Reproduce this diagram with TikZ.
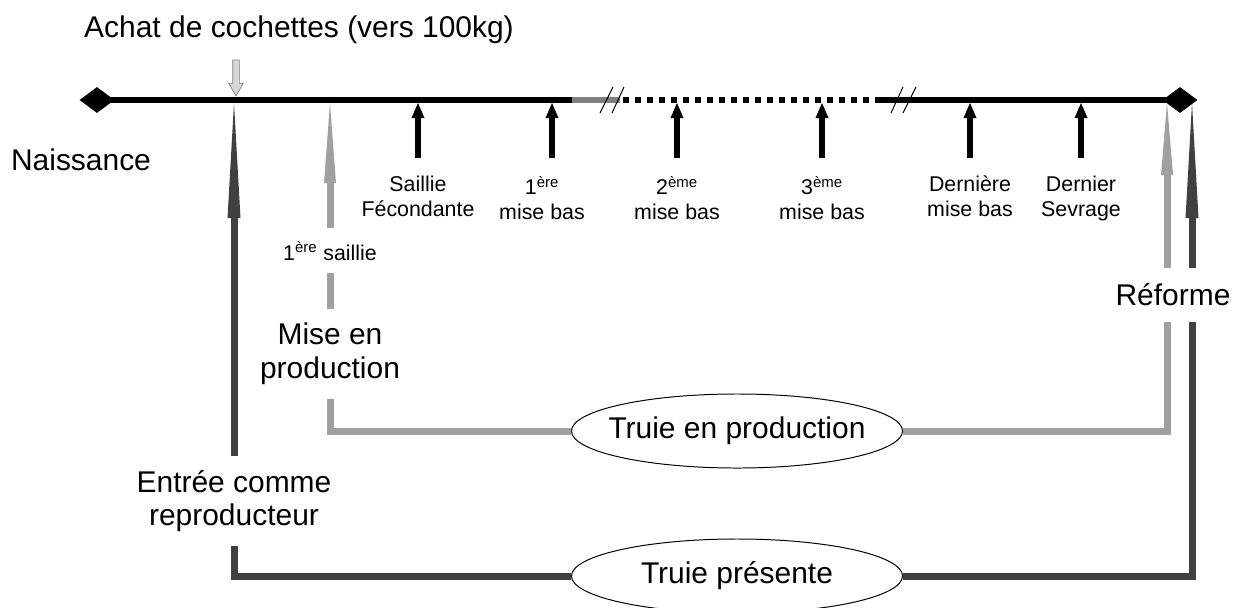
\documentclass[tikz,border=0pt]{standalone}
\usepackage{fontspec}
\setmainfont{Liberation Sans}
\usetikzlibrary{arrows.meta,shapes.geometric,shapes.arrows}

\definecolor{darkln}{RGB}{64,64,64}
\definecolor{lightln}{RGB}{160,160,160}
\definecolor{buyfill}{RGB}{215,215,215}

\tikzset{
  bigtxt/.style={font=\fontsize{21.3}{24}\selectfont, inner sep=0pt},
  smalltxt/.style={font=\fontsize{15.2}{17.7}\selectfont, inner sep=0pt},
  evtlabel/.style={smalltxt, align=center, anchor=north, outer ysep=0.45cm},
  timeln/.style={line width=0.1625cm},
  brk/.style={line width=0.7pt},
  evtarrow/.style={line width=0.15cm, -{Triangle[length=0.375cm, width=0.325cm, line width=0pt]}},
  darkpath/.style={darkln, line width=0.175cm},
  lightpath/.style={lightln, line width=0.175cm},
  darkarrow/.style={darkpath, -{Triangle[length=2.875cm, width=0.325cm, line width=0pt]}},
  lightarrow/.style={lightpath, -{Triangle[length=#1, width=0.3cm, line width=0pt]}},
  lightarrow/.default=2cm,
  phase/.style={ellipse, draw, line width=0.7pt, bigtxt, inner xsep=-0.35cm, inner ysep=0pt,
    minimum width=8.275cm, minimum height=1.85cm},
  endpt/.style={diamond, fill=black, inner sep=0pt, minimum width=0.875cm, minimum height=0.65cm},
  buyarrow/.style={single arrow, draw=gray, fill=buyfill, line width=0.5pt, rotate=-90,
    minimum height=0.9cm, inner xsep=0pt, inner ysep=0.075cm, single arrow head extend=0.1cm,
    single arrow tip angle=60}
}

\begin{document}
\begin{tikzpicture}[x=0.025cm, y=-0.025cm]
\useasboundingbox (0,0) rectangle (1242,607);

\node[endpt] (birth) at (97,100) {};
\node[endpt] (cull) at (1180,100) {};
\coordinate (tl) at (0,103);
\draw[timeln] (birth.center) -- (572,100);
\draw[timeln, gray] (572,100) -- (620,100);
\draw[timeln, dash pattern=on 0.15cm off 0.15cm] (623,100) -- (878,100);
\draw[timeln] (878,100) -- (cull.center);
\draw[brk] (600,113) -- (613,87);
\draw[brk] (612,113) -- (624,87);
\draw[brk] (891,113) -- (903,87);
\draw[brk] (903,113) -- (916,87);

\node[bigtxt, anchor=base] (buy) at (299,37) {Achat de cochettes (vers 100kg)};
\node[buyarrow] (buyarr) at (236,75) {};
\node[bigtxt, anchor=base] (naiss) at (81,170) {Naissance};

% events on the time line
\node[evtlabel] (sf) at (418,158) {Saillie\\Fécondante};
\node[evtlabel] (mb1) at (542,158) {1\textsuperscript{ère}\\mise bas};
\node[evtlabel] (mb2) at (677,158) {2\textsuperscript{ème}\\mise bas};
\node[evtlabel] (mb3) at (822,158) {3\textsuperscript{ème}\\mise bas};
\node[evtlabel] (mbl) at (970,158) {Dernière\\mise bas};
\node[evtlabel] (sev) at (1081,158) {Dernier\\Sevrage};
\coordinate (mb1-foot) at ([xshift=0.25cm]mb1.north);
\draw[evtarrow] (sf.north) -- (sf.north |- tl);
\draw[evtarrow] (mb1-foot) -- (mb1-foot |- tl);
\draw[evtarrow] (mb2.north) -- (mb2.north |- tl);
\draw[evtarrow] (mb3.north) -- (mb3.north |- tl);
\draw[evtarrow] (mbl.north) -- (mbl.north |- tl);
\draw[evtarrow] (sev.north) -- (sev.north |- tl);

% the two cycles
\node[phase] (prod) at (737,431) {Truie en production};
\node[phase] (pres) at (737,576) {Truie présente};

\node[bigtxt, align=center, outer ysep=0.35cm] (entry) at (234,501) {Entrée comme\\reproducteur};
\draw[darkpath] (pres.west) -| (entry);
\draw[darkarrow] (entry) -- (entry |- tl);

\node[bigtxt, align=center, outer ysep=0.35cm] (misep) at (330,354) {Mise en\\production};
\node[smalltxt, anchor=base, outer ysep=0.33cm] (sail1) at (330,260) {1\textsuperscript{ère} saillie};
\draw[lightpath] (prod.west) -| (misep);
\draw[lightpath] (misep) -- (sail1);
\draw[lightarrow] (sail1) -- (sail1 |- tl);

\node[bigtxt, anchor=base] (reform) at (1173,305) {Réforme};
\coordinate (rfg-lo) at (1167,322);
\coordinate (rfg-hi) at (1167,268);
\coordinate (rfd-lo) at (1192,322);
\coordinate (rfd-hi) at (1192,268);
\draw[lightpath] (prod.east) -| (rfg-lo);
\draw[lightarrow=1.8cm] (rfg-hi) -- (rfg-hi |- tl);
\draw[darkpath] (pres.east) -| (rfd-lo);
\draw[darkarrow] (rfd-hi) -- (rfd-hi |- tl);

\end{tikzpicture}
\end{document}
